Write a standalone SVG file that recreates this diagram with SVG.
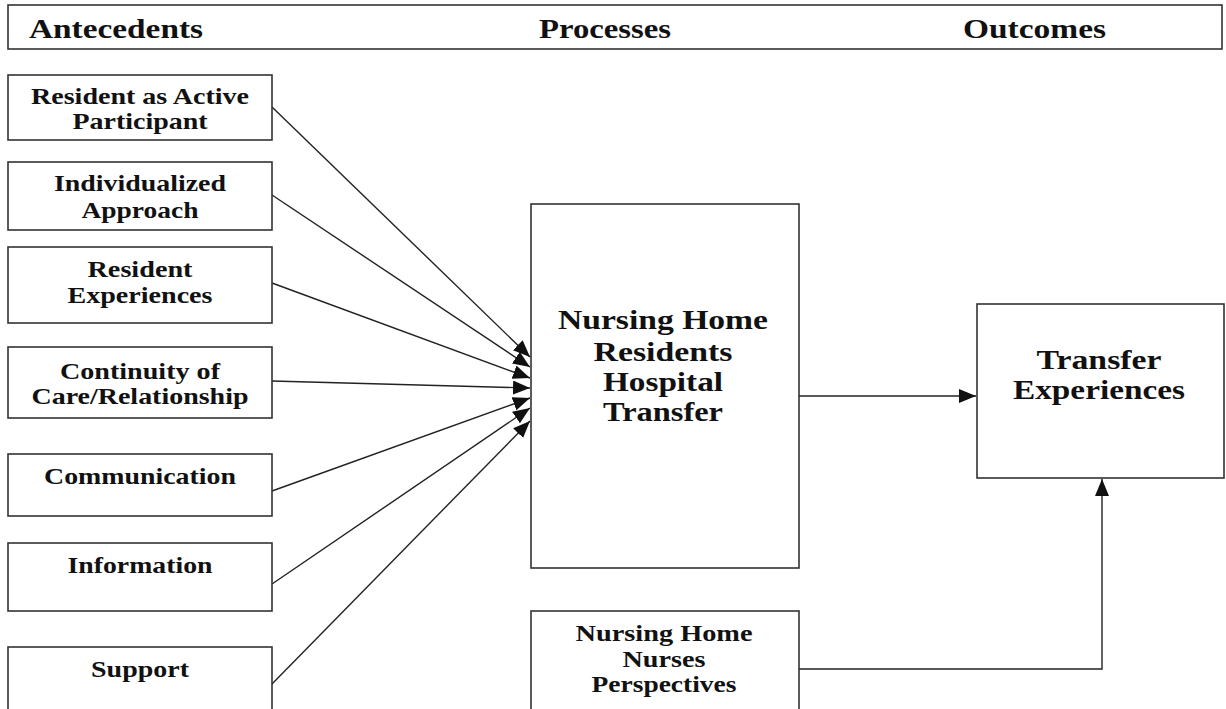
<svg xmlns="http://www.w3.org/2000/svg" width="1226" height="709" viewBox="0 0 1226 709">
<style>
.box{fill:#fff;stroke:#333;stroke-width:1.6}
.hd{font-family:"Liberation Serif","Times New Roman",serif;font-weight:bold;font-size:28px;fill:#111}
.t{font-family:"Liberation Serif","Times New Roman",serif;font-weight:bold;font-size:23px;fill:#111;text-anchor:middle}
.tb{font-family:"Liberation Serif","Times New Roman",serif;font-weight:bold;font-size:28px;fill:#111;text-anchor:middle}
.c{fill:none;stroke:#222;stroke-width:1.4}
</style>
<defs>
<marker id="ah" markerUnits="userSpaceOnUse" markerWidth="20" markerHeight="16" refX="17" refY="7" orient="auto">
<path d="M0,0 L17,7 L0,14 z" fill="#111"/>
</marker>
</defs>
<rect width="1226" height="709" fill="#fff"/>
<g id="header">
<rect class="box" x="8" y="5" width="1214" height="44"/>
<text class="hd" x="29" y="38" textLength="174" lengthAdjust="spacingAndGlyphs">Antecedents</text>
<text class="hd" x="539" y="38" textLength="132" lengthAdjust="spacingAndGlyphs">Processes</text>
<text class="hd" x="963" y="38" textLength="143" lengthAdjust="spacingAndGlyphs">Outcomes</text>
</g>
<g id="connectors">
<line class="c" x1="272" y1="107" x2="530" y2="357" marker-end="url(#ah)"/>
<line class="c" x1="272" y1="195" x2="530" y2="367" marker-end="url(#ah)"/>
<line class="c" x1="272" y1="283" x2="530" y2="378" marker-end="url(#ah)"/>
<line class="c" x1="272" y1="381" x2="530" y2="388" marker-end="url(#ah)"/>
<line class="c" x1="272" y1="491" x2="530" y2="398" marker-end="url(#ah)"/>
<line class="c" x1="272" y1="584" x2="530" y2="408" marker-end="url(#ah)"/>
<line class="c" x1="272" y1="684" x2="530" y2="421" marker-end="url(#ah)"/>
<line class="c" x1="799" y1="396" x2="976" y2="396" marker-end="url(#ah)"/>
<polyline class="c" points="799,669 1102,669 1102,479" marker-end="url(#ah)"/>
</g>
<g id="n1">
<rect class="box" x="8" y="75" width="264" height="65"/>
<text class="t" x="140" y="104" textLength="218" lengthAdjust="spacingAndGlyphs">Resident as Active</text>
<text class="t" x="140" y="129" textLength="135" lengthAdjust="spacingAndGlyphs">Participant</text>
</g>
<g id="n2">
<rect class="box" x="8" y="162" width="264" height="68"/>
<text class="t" x="140" y="191" textLength="172" lengthAdjust="spacingAndGlyphs">Individualized</text>
<text class="t" x="140" y="218" textLength="117" lengthAdjust="spacingAndGlyphs">Approach</text>
</g>
<g id="n3">
<rect class="box" x="8" y="247" width="264" height="76"/>
<text class="t" x="140" y="277" textLength="105" lengthAdjust="spacingAndGlyphs">Resident</text>
<text class="t" x="140" y="303" textLength="145" lengthAdjust="spacingAndGlyphs">Experiences</text>
</g>
<g id="n4">
<rect class="box" x="8" y="347" width="264" height="71"/>
<text class="t" x="140" y="379" textLength="160" lengthAdjust="spacingAndGlyphs">Continuity of</text>
<text class="t" x="140" y="404" textLength="217" lengthAdjust="spacingAndGlyphs">Care/Relationship</text>
</g>
<g id="n5">
<rect class="box" x="8" y="454" width="264" height="62"/>
<text class="t" x="140" y="484" textLength="192" lengthAdjust="spacingAndGlyphs">Communication</text>
</g>
<g id="n6">
<rect class="box" x="8" y="543" width="264" height="68"/>
<text class="t" x="140" y="573" textLength="145" lengthAdjust="spacingAndGlyphs">Information</text>
</g>
<g id="n7">
<rect class="box" x="8" y="647" width="264" height="80"/>
<text class="t" x="140" y="677" textLength="98" lengthAdjust="spacingAndGlyphs">Support</text>
</g>
<g id="center">
<rect class="box" x="531" y="204" width="268" height="364"/>
<text class="tb" x="663" y="329" textLength="210" lengthAdjust="spacingAndGlyphs">Nursing Home</text>
<text class="tb" x="663" y="361" textLength="139" lengthAdjust="spacingAndGlyphs">Residents</text>
<text class="tb" x="663" y="391" textLength="120" lengthAdjust="spacingAndGlyphs">Hospital</text>
<text class="tb" x="663" y="421" textLength="120" lengthAdjust="spacingAndGlyphs">Transfer</text>
</g>
<g id="nurses">
<rect class="box" x="531" y="611" width="268" height="110"/>
<text class="t" x="664" y="641" textLength="177" lengthAdjust="spacingAndGlyphs">Nursing Home</text>
<text class="t" x="664" y="667" textLength="83" lengthAdjust="spacingAndGlyphs">Nurses</text>
<text class="t" x="664" y="692" textLength="145" lengthAdjust="spacingAndGlyphs">Perspectives</text>
</g>
<g id="outcome">
<rect class="box" x="977" y="304" width="247" height="174"/>
<text class="tb" x="1099" y="369" textLength="125" lengthAdjust="spacingAndGlyphs">Transfer</text>
<text class="tb" x="1099" y="399" textLength="172" lengthAdjust="spacingAndGlyphs">Experiences</text>
</g>
</svg>
